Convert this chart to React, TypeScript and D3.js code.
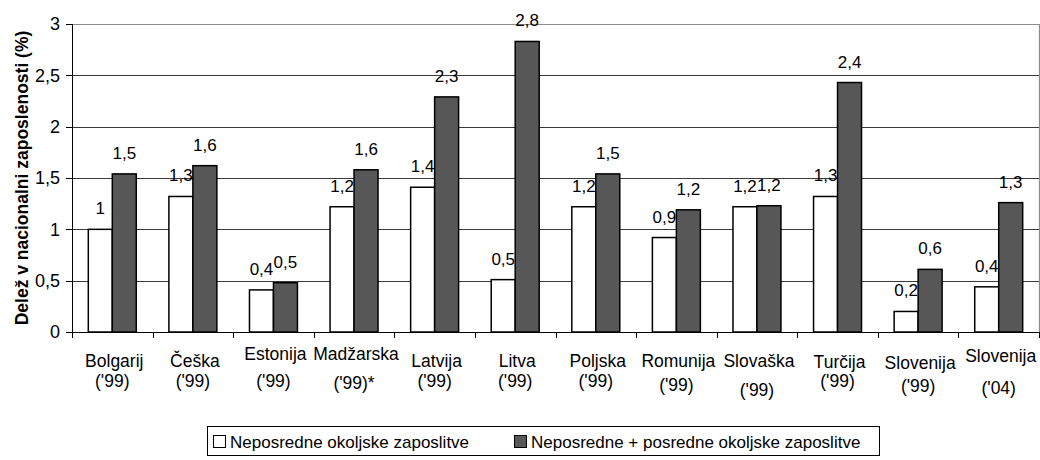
import { useEffect, useRef } from 'react';
import * as d3 from 'd3';

// categories as two-line labels
const categories = [
  'Bolgarij', 'Češka', 'Estonija', 'Madžarska', 'Latvija', 'Litva',
  'Poljska', 'Romunija', 'Slovaška', 'Turčija', 'Slovenija', 'Slovenija04',
];
const catLine1 = [
  'Bolgarij', 'Češka', 'Estonija', 'Madžarska', 'Latvija', 'Litva',
  'Poljska', 'Romunija', 'Slovaška', 'Turčija', 'Slovenija', 'Slovenija',
];
const catLine2 = [
  "('99)", "('99)", "('99)", "('99)*", "('99)", "('99)",
  "('99)", "('99)", "('99)", "('99)", "('99)", "('04)",
];

const seriesNames = [
  'Neposredne okoljske zaposlitve',
  'Neposredne + posredne okoljske zaposlitve',
];
const direct = [1.0, 1.32, 0.41, 1.22, 1.41, 0.51, 1.22, 0.92, 1.22, 1.32, 0.2, 0.44];
const directPlusIndirect = [1.54, 1.62, 0.48, 1.58, 2.29, 2.83, 1.54, 1.19, 1.23, 2.43, 0.61, 1.26];

const yTicks = [0, 0.5, 1, 1.5, 2, 2.5, 3];
const yTitle = 'Delež v nacionalni zaposlenosti (%)';

const fills = ['#ffffff', '#575757'];
const FONT = '"Liberation Sans", Arial, sans-serif';

const App = () => {
  const svgRef = useRef(null);

  useEffect(() => {
    const width = 1040;
    const height = 460;
    const left = 72, right = 1039, top = 24, bottom = 332;

    const svg = d3.select(svgRef.current)
      .attr('width', width)
      .attr('height', height)
      .style('font-family', FONT);
    svg.selectAll('*').remove();

    const x0 = d3.scaleBand().domain(categories).range([left, right]).padding(0);
    const x1 = d3.scaleBand().domain(seriesNames).range([0, x0.bandwidth()]).paddingInner(0).paddingOuter(0.68);
    const y = d3.scaleLinear().domain([0, 3]).range([bottom, top]);

    const fmt = v => String(Math.round(v * 10) / 10).replace('.', ',');

    // gridlines
    svg.append('g')
      .selectAll('line')
      .data(yTicks.filter(t => t > 0 && t < 3))
      .join('line')
      .attr('x1', left).attr('x2', right)
      .attr('y1', d => Math.round(y(d)) + 0.5).attr('y2', d => Math.round(y(d)) + 0.5)
      .attr('stroke', '#3a3a3a');

    // plot border top/right
    svg.append('path')
      .attr('d', `M${left},${top + 0.5}H${right + 0.5}V${bottom}`)
      .attr('fill', 'none')
      .attr('stroke', '#8c8c8c')
      .attr('stroke-width', 1.2);

    // bars
    const rows = categories.map((c, i) => ({ c, vals: [direct[i], directPlusIndirect[i]] }));
    const grp = svg.append('g')
      .selectAll('g')
      .data(rows)
      .join('g')
      .attr('transform', d => `translate(${x0(d.c)},0)`);

    grp.selectAll('rect')
      .data(d => d.vals.map((v, k) => ({ v, k })))
      .join('rect')
      .attr('x', d => x1(seriesNames[d.k]))
      .attr('y', d => y(d.v))
      .attr('width', x1.bandwidth())
      .attr('height', d => bottom - y(d.v))
      .attr('fill', d => fills[d.k])
      .attr('stroke', '#000')
      .attr('stroke-width', 1.5);

    grp.selectAll('text')
      .data(d => d.vals.map((v, k) => ({ v, k })))
      .join('text')
      .attr('x', d => x1(seriesNames[d.k]) + x1.bandwidth() / 2)
      .attr('y', d => y(d.v) - 15)
      .attr('text-anchor', 'middle')
      .attr('font-size', 17)
      .attr('fill', '#000')
      .text(d => fmt(d.v));

    // y axis
    const yAxis = svg.append('g');
    yAxis.append('line')
      .attr('x1', left + 0.5).attr('x2', left + 0.5)
      .attr('y1', top).attr('y2', bottom)
      .attr('stroke', '#000');
    yAxis.selectAll('line.tick')
      .data(yTicks)
      .join('line')
      .attr('class', 'tick')
      .attr('x1', left - 6).attr('x2', left)
      .attr('y1', d => Math.round(y(d)) + 0.5).attr('y2', d => Math.round(y(d)) + 0.5)
      .attr('stroke', '#000');
    yAxis.selectAll('text')
      .data(yTicks)
      .join('text')
      .attr('x', 60)
      .attr('y', d => y(d))
      .attr('dy', '0.36em')
      .attr('text-anchor', 'end')
      .attr('font-size', 18)
      .text(d => String(d).replace('.', ','));

    svg.append('text')
      .attr('transform', `translate(22,${(top + bottom) / 2}) rotate(-90)`)
      .attr('dy', '0.36em')
      .attr('text-anchor', 'middle')
      .attr('font-size', 17.5)
      .attr('font-weight', 'bold')
      .text(yTitle);

    // x axis
    const xAxis = svg.append('g');
    xAxis.append('line')
      .attr('x1', left).attr('x2', right)
      .attr('y1', bottom + 0.5).attr('y2', bottom + 0.5)
      .attr('stroke', '#000');
    const edges = categories.map(c => x0(c)).concat([right]);
    xAxis.selectAll('line.tick')
      .data(edges)
      .join('line')
      .attr('class', 'tick')
      .attr('x1', d => Math.round(d) + 0.5).attr('x2', d => Math.round(d) + 0.5)
      .attr('y1', bottom).attr('y2', bottom + 6)
      .attr('stroke', '#000');

    // excel wraps the labels unevenly, baselines below the axis
    const line1Off = [35, 35, 28, 28, 35, 35, 35, 35, 35, 36, 37, 30];
    const line2Off = [55, 55, 55, 57, 55, 55, 55, 59, 64, 55, 60, 62];
    const lbl = xAxis.selectAll('g.lbl')
      .data(categories)
      .join('g')
      .attr('class', 'lbl')
      .attr('font-size', 17.5)
      .attr('text-anchor', 'middle');
    lbl.append('text')
      .attr('x', d => x0(d) + x0.bandwidth() / 2 + 2)
      .attr('y', (d, i) => bottom + line1Off[i])
      .text((d, i) => catLine1[i]);
    lbl.append('text')
      .attr('x', d => x0(d) + x0.bandwidth() / 2)
      .attr('y', (d, i) => bottom + line2Off[i])
      .text((d, i) => catLine2[i]);

    // legend
    const lx = 207, ly = 426, lw = 672, lh = 29;
    const legend = svg.append('g');
    legend.append('rect')
      .attr('x', lx + 0.5).attr('y', ly + 0.5)
      .attr('width', lw).attr('height', lh)
      .attr('fill', '#fff')
      .attr('stroke', '#000');
    const itemX = [213, 514];
    const textX = [230, 531];
    seriesNames.forEach((s, k) => {
      legend.append('rect')
        .attr('x', itemX[k] + 0.5).attr('y', ly + 9.5)
        .attr('width', 12).attr('height', 12)
        .attr('fill', fills[k])
        .attr('stroke', '#000');
      legend.append('text')
        .attr('x', textX[k])
        .attr('y', ly + 15.5)
        .attr('dy', '0.36em')
        .attr('font-size', 17)
        .text(s);
    });
  }, []);

  return (
    <svg ref={svgRef} style={{ position: 'absolute', left: 0, top: 0, background: '#fff' }}></svg>
  );
};

export default App;
